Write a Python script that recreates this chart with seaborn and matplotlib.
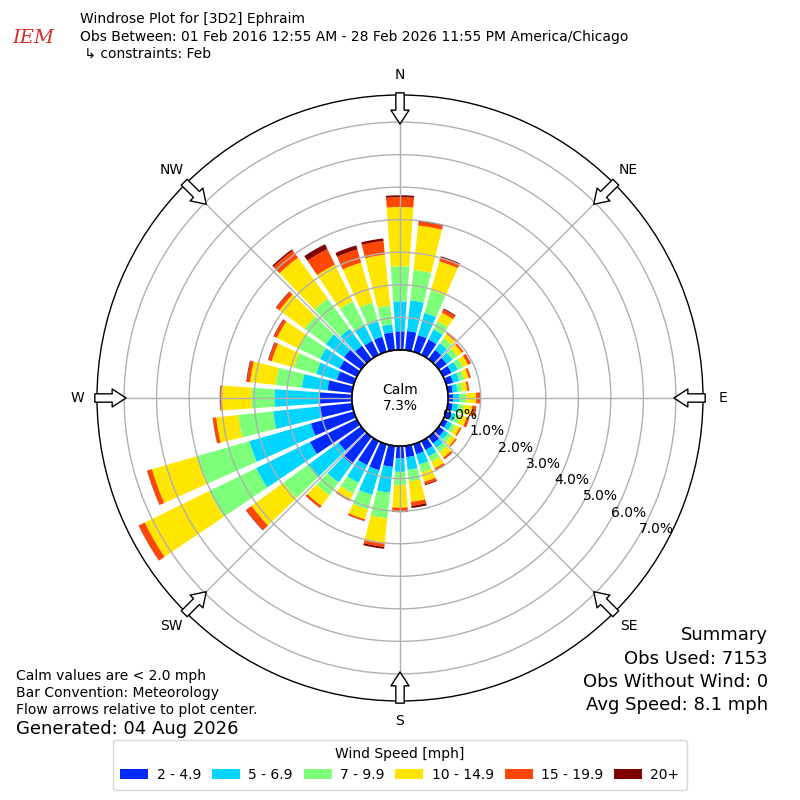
import numpy as np
import matplotlib
matplotlib.use("Agg")
import matplotlib.pyplot as plt
import seaborn as sns

# wind directions (deg, meteorological) and frequency (%) per speed bin
directions = [0, 10, 20, 30, 40, 50, 60, 70, 80, 90, 100, 110,
              120, 130, 140, 150, 160, 170, 180, 190, 200, 210, 220, 230,
              240, 250, 260, 270, 280, 290, 300, 310, 320, 330, 340, 350]

spd_2_5 = [0.57, 0.59, 0.53, 0.52, 0.35, 0.30, 0.28, 0.22, 0.15, 0.16, 0.15, 0.15,
           0.15, 0.20, 0.25, 0.30, 0.32, 0.35, 0.38, 0.65, 0.83, 0.82, 1.04, 0.85,
           1.60, 1.37, 1.02, 0.99, 0.76, 0.54, 0.59, 0.65, 0.51, 0.47, 0.48, 0.55]
spd_5_7 = [0.92, 0.95, 0.71, 0.34, 0.25, 0.22, 0.22, 0.20, 0.15, 0.19, 0.17, 0.15,
           0.15, 0.15, 0.17, 0.22, 0.33, 0.39, 0.41, 0.80, 0.79, 0.60, 0.69, 1.15,
           1.84, 1.97, 1.42, 1.39, 0.79, 0.66, 0.67, 0.69, 0.64, 0.53, 0.49, 0.25]
spd_7_10 = [1.08, 0.94, 0.72, 0.28, 0.20, 0.18, 0.18, 0.16, 0.15, 0.21, 0.18, 0.15,
            0.12, 0.13, 0.16, 0.18, 0.25, 0.36, 0.41, 0.79, 0.47, 0.37, 0.49, 0.95,
            1.61, 1.68, 1.08, 0.71, 0.81, 0.71, 0.72, 0.80, 1.15, 0.83, 0.60, 0.58]
spd_10_15 = [1.82, 1.37, 0.93, 0.30, 0.15, 0.18, 0.17, 0.14, 0.15, 0.30, 0.25, 0.20,
             0.15, 0.15, 0.20, 0.23, 0.30, 0.63, 0.69, 0.78, 0.31, 0.21, 0.40, 1.21,
             2.20, 1.43, 0.68, 0.91, 0.79, 0.71, 0.75, 0.96, 1.55, 1.25, 1.28, 1.57]
spd_15_20 = [0.30, 0.12, 0.13, 0.11, 0.05, 0.06, 0.09, 0.07, 0.06, 0.11, 0.11, 0.08,
             0.05, 0.05, 0.06, 0.07, 0.08, 0.12, 0.12, 0.10, 0.05, 0.03, 0.07, 0.20,
             0.20, 0.15, 0.10, 0.05, 0.10, 0.10, 0.10, 0.12, 0.27, 0.53, 0.42, 0.42]
spd_20 = [0.06, 0.03, 0.03, 0.03, 0.01, 0.00, 0.01, 0.00, 0.00, 0.02, 0.02, 0.01,
          0.00, 0.00, 0.01, 0.01, 0.03, 0.07, 0.02, 0.06, 0.01, 0.01, 0.01, 0.02,
          0.01, 0.01, 0.01, 0.01, 0.02, 0.02, 0.02, 0.02, 0.05, 0.17, 0.13, 0.08]

bins = [spd_2_5, spd_5_7, spd_7_10, spd_10_15, spd_15_20, spd_20]
bin_labels = ["2 - 4.9", "5 - 6.9", "7 - 9.9", "10 - 14.9", "15 - 19.9", "20+"]
calm_pct = 7.3
ring_values = [0, 1, 2, 3, 4, 5, 6, 7]
compass = ["N", "NE", "E", "SE", "S", "SW", "W", "NW"]

sns.set_theme(style="white")
plt.rcParams["font.family"] = ["DejaVu Sans"]
plt.rcParams["text.color"] = "black"

jet = matplotlib.colormaps["jet"]
colors = [jet(v) for v in np.linspace(0, 1, 7)[1:]]

fig = plt.figure(figsize=(8, 8), dpi=100)
ax = fig.add_axes([0.12125, 0.12375, 0.7575, 0.7575], projection="polar")
ax.set_theta_zero_location("N")
ax.set_theta_direction(-1)
ax.set_rorigin(-1.48)
ax.set_rmin(0)
ax.set_rmax(7.87)
ax.set_axisbelow(False)

theta = np.deg2rad(directions)
bottom = np.zeros(len(directions))
for vals, col, lab in zip(bins, colors, bin_labels):
    ax.bar(theta, vals, width=np.deg2rad(8), bottom=bottom, color=col,
           edgecolor="none", linewidth=0, label=lab, zorder=1)
    bottom = bottom + np.array(vals)

# grid
ax.set_rgrids(ring_values[1:], labels=[""] * 7)
ax.set_thetagrids(range(0, 360, 45), labels=[""] * 8)
ax.grid(True, color="#b0b0b0", linewidth=1, zorder=2)
ax.spines["polar"].set_color("black")
ax.spines["polar"].set_linewidth(1)

# calm circle
circ = np.linspace(0, 2 * np.pi, 300)
ax.plot(circ, np.zeros_like(circ), color="black", lw=1, zorder=5, clip_on=False)
ax.text(0, -1.48, "Calm\n%.1f%%" % calm_pct, ha="center", va="center",
        fontsize=10, zorder=6)

# ring labels
lab_th = np.deg2rad(120)
for rv in ring_values:
    ax.text(lab_th, rv, "%.1f%%" % rv, ha="left", va="bottom", fontsize=10,
            zorder=6)

# compass labels and flow arrows
for i, name in enumerate(compass):
    th = np.deg2rad(i * 45)
    ax.text(th, 8.45, name, ha="center", va="center", fontsize=10, clip_on=False)
    ax.annotate("", xy=(th, 6.94), xytext=(th, 7.9), annotation_clip=False,
                arrowprops=dict(arrowstyle="simple,head_length=1.0,head_width=1.3,tail_width=0.6",
                                mutation_scale=10, fc="white", ec="black", lw=1,
                                shrinkA=0, shrinkB=0, clip_on=False),
                zorder=7)

# header
fig.text(0.042, 0.953, "IEM", color="#d42a2a", fontsize=14, style="italic",
         family="serif", ha="center", va="center")
fig.text(0.1, 0.976, "Windrose Plot for [3D2] Ephraim", fontsize=10, va="center")
fig.text(0.1, 0.954, "Obs Between: 01 Feb 2016 12:55 AM - 28 Feb 2026 11:55 PM America/Chicago",
         fontsize=10, va="center")
fig.text(0.1, 0.933, " \u21b3 constraints: Feb", fontsize=10, va="center")

# footer notes
fig.text(0.02, 0.155, "Calm values are < 2.0 mph", fontsize=10, va="center")
fig.text(0.02, 0.134, "Bar Convention: Meteorology", fontsize=10, va="center")
fig.text(0.02, 0.1125, "Flow arrows relative to plot center.", fontsize=10, va="center")
fig.text(0.02, 0.089, "Generated: 04 Aug 2026", fontsize=13, va="center")

summary = ["Summary", "Obs Used: 7153", "Obs Without Wind: 0", "Avg Speed: 8.1 mph"]
for k, line in enumerate(summary):
    fig.text(0.96, 0.206 - k * 0.0292, line, fontsize=13, ha="right", va="center")

fig.legend(loc="lower center", bbox_to_anchor=(0.5, 0.004), ncol=6,
           title="Wind Speed [mph]", fontsize=10, title_fontsize=10,
           frameon=True, handleheight=0.7, columnspacing=0.8,
           handletextpad=0.6, borderpad=0.55)

fig.savefig("out.png", dpi=100)
